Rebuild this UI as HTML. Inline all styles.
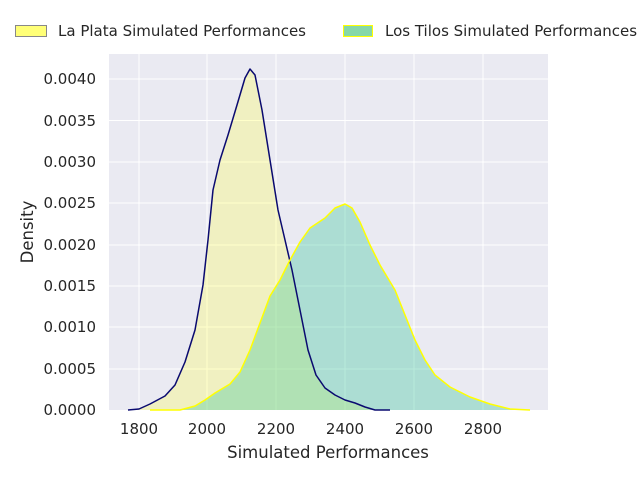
<!DOCTYPE html>
<html><head><meta charset="utf-8"><style>
html,body{margin:0;padding:0;background:#fff;}
svg{display:block;font-family:"DejaVu Sans","Liberation Sans",sans-serif;}
</style></head><body>
<svg width="640" height="480" viewBox="0 0 640 480" xmlns="http://www.w3.org/2000/svg">
<rect x="109" y="54" width="439" height="356" fill="#eaeaf2"/>
<g stroke="#fff" stroke-width="1">
<line x1="139" y1="54" x2="139" y2="410"/><line x1="207" y1="54" x2="207" y2="410"/>
<line x1="276" y1="54" x2="276" y2="410"/><line x1="345" y1="54" x2="345" y2="410"/>
<line x1="414" y1="54" x2="414" y2="410"/><line x1="483" y1="54" x2="483" y2="410"/>
<line x1="109" y1="79" x2="548" y2="79"/><line x1="109" y1="120.5" x2="548" y2="120.5"/>
<line x1="109" y1="162" x2="548" y2="162"/><line x1="109" y1="203" x2="548" y2="203"/>
<line x1="109" y1="245" x2="548" y2="245"/><line x1="109" y1="286" x2="548" y2="286"/>
<line x1="109" y1="327" x2="548" y2="327"/><line x1="109" y1="369" x2="548" y2="369"/>
</g>
<path d="M128,410 L139,409 L150,404 L165,396 L175,385 L185,362 L195,330 L203,285 L208,240 L213,190 L220,160 L228,135 L237,105 L245,78 L250,69 L255,75 L262,110 L270,160 L278,210 L285,240 L292,270 L300,310 L308,350 L316,375 L325,388 L335,395 L345,400 L355,403 L365,407 L375,410 L390,410 Z" fill="rgba(255,255,80,0.3)" stroke="none"/>
<path d="M150,410 L180,410 L195,406 L205,400 L215,393 L230,384 L240,372 L250,350 L260,323 L270,296 L280,280 L290,260 L300,242 L310,228 L325,218 L335,208 L345,204 L352,208 L360,222 L370,245 L380,265 L395,290 L405,315 L415,340 L425,360 L435,375 L450,387 L470,397 L490,404 L510,409 L530,410 Z" fill="rgba(70,200,160,0.38)" stroke="none"/>
<path d="M128,410 L139,409 L150,404 L165,396 L175,385 L185,362 L195,330 L203,285 L208,240 L213,190 L220,160 L228,135 L237,105 L245,78 L250,69 L255,75 L262,110 L270,160 L278,210 L285,240 L292,270 L300,310 L308,350 L316,375 L325,388 L335,395 L345,400 L355,403 L365,407 L375,410 L390,410" fill="none" stroke="#0a0a70" stroke-width="1.5" stroke-linejoin="round"/>
<path d="M150,410 L180,410 L195,406 L205,400 L215,393 L230,384 L240,372 L250,350 L260,323 L270,296 L280,280 L290,260 L300,242 L310,228 L325,218 L335,208 L345,204 L352,208 L360,222 L370,245 L380,265 L395,290 L405,315 L415,340 L425,360 L435,375 L450,387 L470,397 L490,404 L510,409 L530,410" fill="none" stroke="#ffff00" stroke-width="1.5" stroke-linejoin="round"/>
<g font-size="15" fill="#262626" text-anchor="middle">
<text x="139" y="434">1800</text><text x="207" y="434">2000</text><text x="276" y="434">2200</text>
<text x="345" y="434">2400</text><text x="414" y="434">2600</text><text x="483" y="434">2800</text>
<text x="328" y="458" font-size="16.5">Simulated Performances</text>
</g>
<g font-size="15" fill="#262626" text-anchor="end">
<text x="96" y="415">0.0000</text><text x="96" y="374">0.0005</text><text x="96" y="332">0.0010</text>
<text x="96" y="291">0.0015</text><text x="96" y="250">0.0020</text><text x="96" y="208">0.0025</text>
<text x="96" y="167">0.0030</text><text x="96" y="126">0.0035</text><text x="96" y="84">0.0040</text>
</g>
<text x="33" y="232" font-size="16.5" fill="#262626" text-anchor="middle" transform="rotate(-90 33 232)">Density</text>
<rect x="15.5" y="25.5" width="31" height="11" fill="#ffff77" stroke="#888" stroke-width="1"/>
<text x="58" y="36" font-size="15" fill="#262626">La Plata Simulated Performances</text>
<rect x="343.5" y="25.5" width="29" height="11" fill="#86d8a8" stroke="#ffff00" stroke-width="1"/>
<text x="385" y="36" font-size="15" fill="#262626">Los Tilos Simulated Performances</text>
</svg>
</body></html>
